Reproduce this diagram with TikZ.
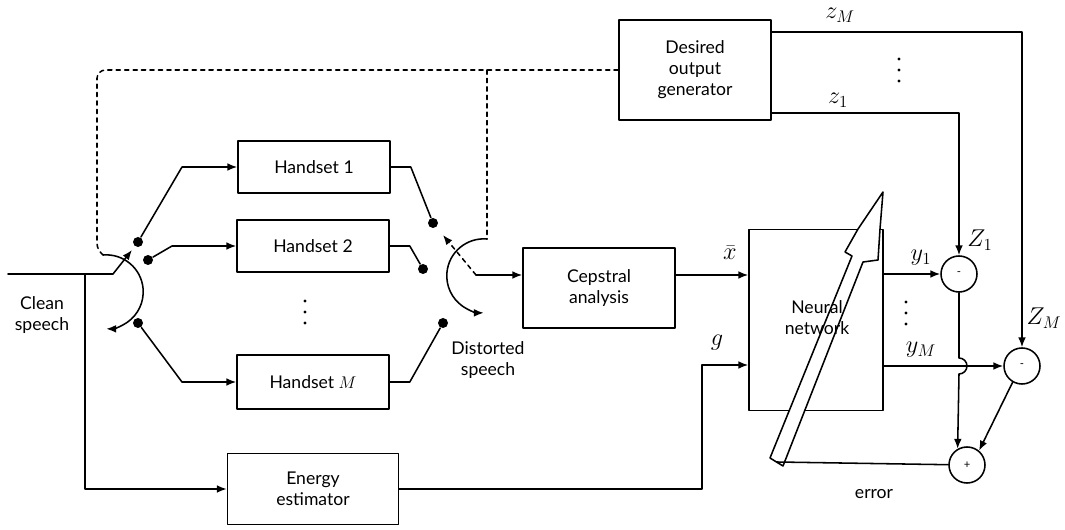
\documentclass[tikz,border=0pt]{standalone}
\usepackage{fontspec}
\setmainfont{Lato}
\usetikzlibrary{arrows.meta,calc}

\begin{document}
\begin{tikzpicture}[x=0.025cm, y=0.025cm, line cap=round, line join=round, line width=1.1pt,
    >={Latex[length=7pt,width=5.5pt]},
    every node/.style={font=\fontsize{12.5}{15}\selectfont},
    blk/.style={draw, minimum width=3.8cm, minimum height=1.3cm, align=center},
    sum/.style={draw, circle, minimum size=0.9cm, inner sep=0pt, font=\footnotesize},
    contact/.style={circle, fill, inner sep=0pt, minimum size=0.25cm},
    lbl/.style={font=\fontsize{17}{20}\selectfont}]
    \useasboundingbox (0,0) rectangle (1065,-530);

    % 方框
    \node[blk] (h1) at (314,-167) {Handset 1};
    \node[blk] (h2) at (313,-246) {Handset 2};
    \node[blk, minimum height=1.35cm] (hm) at (313,-382) {Handset $M$};
    \node[blk, minimum width=4.275cm, minimum height=1.775cm] (ee) at (313,-489) {Energy\\estimator};
    \node[blk, minimum height=2cm] (cep) at (599,-288) {Cepstral\\analysis};
    \node[blk, minimum width=3.35cm, minimum height=4.525cm] (nn) at (816,-320) {};
    \node[blk, minimum height=2.5cm] (dog) at (695,-70) {Desired\\output\\generator};

    % 省略号（三个点）
    \foreach \px/\py in {305/-301, 899/-59, 906/-302}
        \foreach \k in {0,1,2}
            \fill (\px,\py-\k*11) circle (1.6);

    % 求差、求和
    \node[sum] (m1) at (959,-274) {-};
    \node[sum] (mM) at (1022,-366) {-};
    \node[sum] (pl) at (967,-465) {+};

    % 开关触点
    \node[contact] (l1) at (138,-242) {};
    \node[contact] (l2) at (148,-260) {};
    \node[contact] (lm) at (138,-323) {};
    \node[contact] (r1) at (433,-223) {};
    \node[contact] (r2) at (423,-269) {};
    \node[contact] (rm) at (443,-323) {};

    % 辅助点
    \coordinate (cin) at (8,-274);
    \coordinate (jn) at (85,-274);
    \coordinate (wl) at (132,-250);
    \coordinate (al) at (103,-255);
    \coordinate (ar) at (487,-239);
    \coordinate (sw) at (476,-275);
    \coordinate (gin) at (702,-365);
    \coordinate (tail) at (777,-462);

    % 输入与左侧开关
    \draw[->] (cin) -- ++(105,0) -- (wl);
    \draw[->] (jn) |- (ee);
    \draw[->] (al) arc[start angle=95, end angle=-90, radius=37];
    \draw[->] (l1) -- ++(44,75) -- (h1);
    \draw[->] (l2) -- ++(24,14) -- (h2);
    \draw[->] (lm) -- ++(44,-59) -- (hm);

    % 右侧开关
    \draw (h1.east) -- ++(20,0) -- (r1);
    \draw (h2.east) -- ++(20,0) -- (r2);
    \draw (hm.east) -- ++(20,0) -- (rm);
    \draw[->] (ar) arc[start angle=85, end angle=270, radius=37];
    \draw[dashed, ->, shorten >=7pt] (sw) -- (r1);

    % 控制虚线
    \draw[dashed, rounded corners=6] (dog.west) -| ($(al)+(-6,3)$) -- (al);
    \draw[dashed] (ar |- dog.west) -- (ar);

    % 特征通路
    \draw[->] (sw) -- (sw -| cep.west);
    \draw[->] (cep.east |- sw) -- (nn.west |- sw);
    \draw[->] (ee) -| (gin) -- (gin -| nn.west);

    % 调整箭头
    \draw[fill=white] (883,-192) -- (880,-229) -- (878,-260) -- (863,-262) -- (783,-466)
        -- (770,-458) -- (852,-256) -- (845,-252) -- (858,-229) -- cycle;
    \node[align=center] (nnl) at (817,-318) {Neural\\network};

    % 输出与误差
    \draw[->] (nn.east |- m1) -- (m1);
    \draw[->] (nn.east |- mM) -- (mM);
    \draw[->] ($(dog.east)+(0,38)$) -| (mM);
    \draw[->] ($(dog.east)+(0,-43)$) -| (m1);
    \draw[->] (m1) -- ($(m1 |- mM)+(0,8)$) arc[start angle=90, end angle=-90, radius=8] -- (pl.120);
    \draw[->] (mM.240) -- (pl.50);
    \draw (pl) -- (tail);

    % 标注
    \node[lbl] (zMl) at (840,-15) {$z_M$};
    \node[lbl] (z1l) at (838,-100) {$z_1$};
    \node[lbl] (Z1l) at (980,-240) {$Z_1$};
    \node[lbl] (ZMl) at (1044,-318) {$Z_M$};
    \node[lbl] (y1l) at (921,-258) {$y_1$};
    \node[lbl] (yMl) at (921,-350) {$y_M$};
    \node[lbl] (gl) at (717,-343) {$g$};
    \node[lbl] (xl) at (730,-253) {$\bar{x}$};
    \node (err) at (874,-494) {error};
    \node[align=center] (cl) at (42,-315) {Clean\\speech};
    \node[align=center] (dl) at (488,-360) {Distorted\\speech};
\end{tikzpicture}
\end{document}
